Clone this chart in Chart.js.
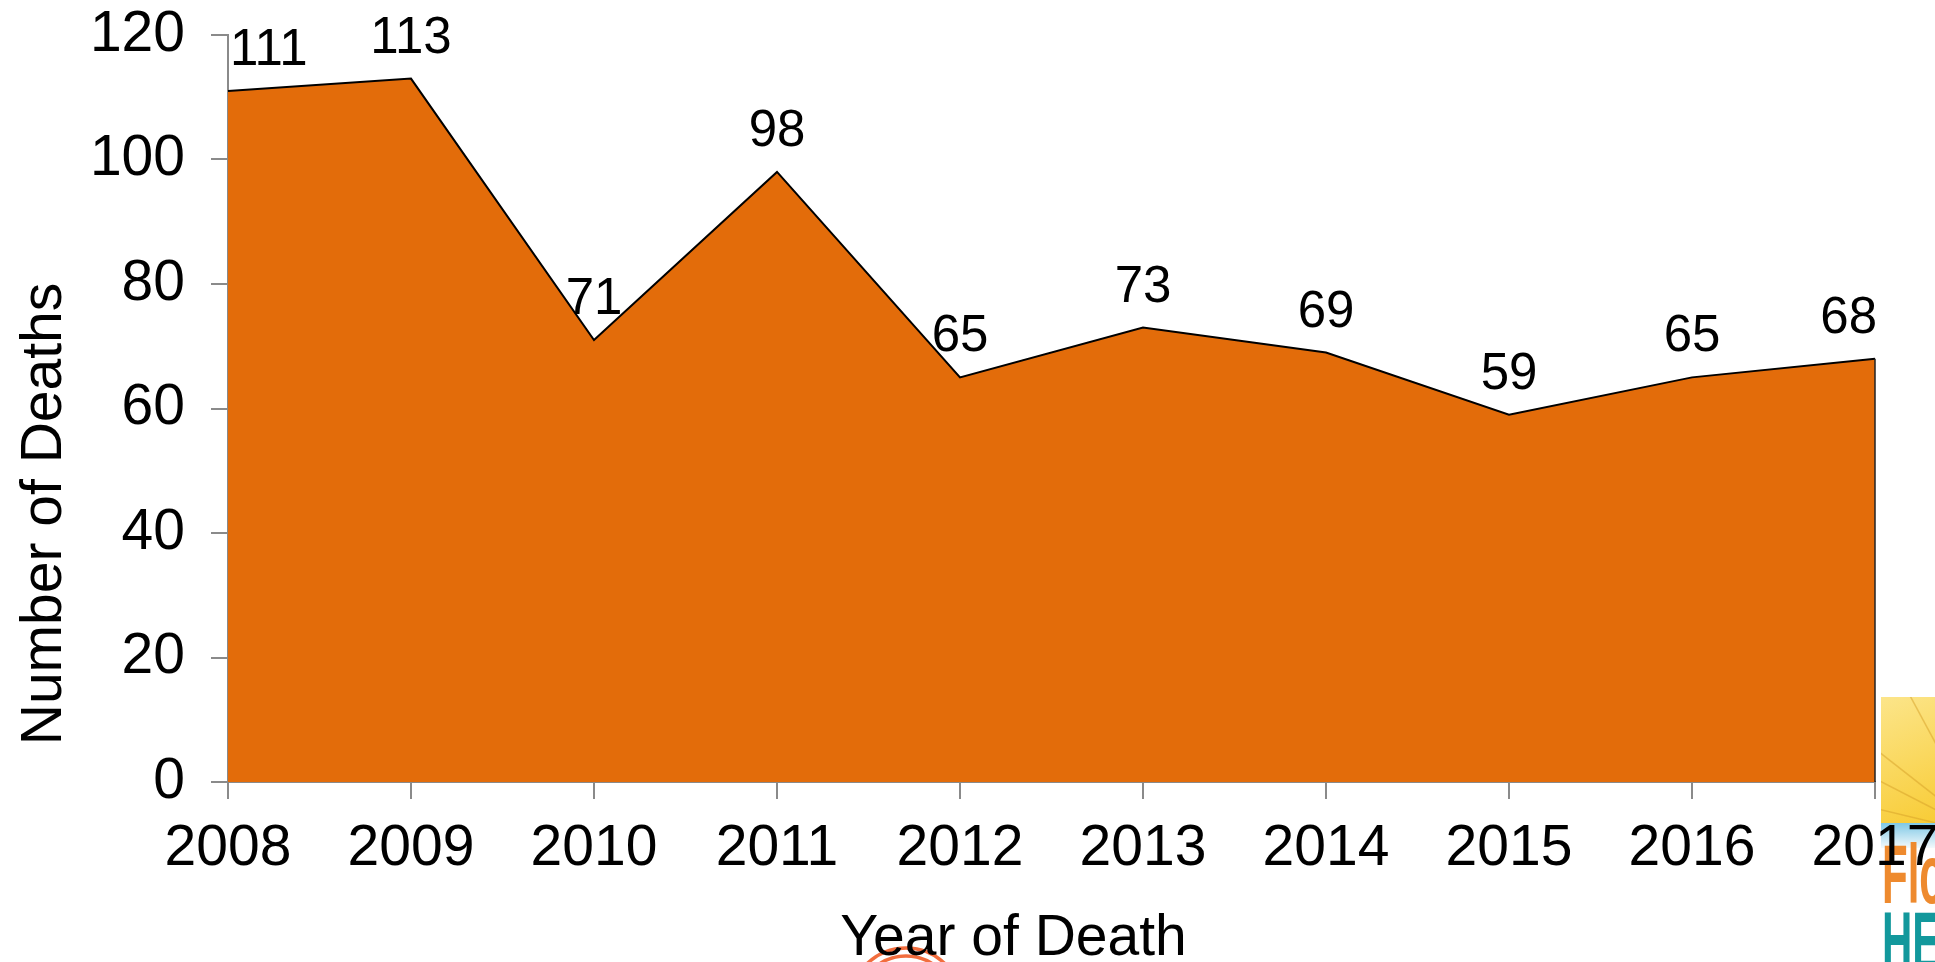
<!DOCTYPE html>
<html>
<head>
<meta charset="utf-8">
<title>Number of Deaths by Year</title>
<script src="https://cdn.jsdelivr.net/npm/chart.js@4.4.1/dist/chart.umd.min.js"></script>
<style>
  html, body { margin: 0; padding: 0; background: #ffffff; overflow: hidden; }
  canvas { display: block; }
</style>
</head>
<body>
<canvas id="chart" width="1935" height="962"></canvas>
<script>
// ---- data ----
const years = ['2008', '2009', '2010', '2011', '2012', '2013', '2014', '2015', '2016', '2017'];
const deaths = [111, 113, 71, 98, 65, 73, 69, 59, 65, 68];
const yRange = [0, 120];
const yStep = 20;
const xTitle = 'Year of Death';
const yTitle = 'Number of Deaths';

// ---- styling ----
const FONT = "'Liberation Sans', Arial, Helvetica, sans-serif";
const AREA_COLOR = '#E36C0A';
const AXIS_COLOR = '#8A8A8A';

// value labels above each point, kept inside the plot horizontally
const valueLabels = {
  id: 'valueLabels',
  afterDatasetsDraw(chart) {
    const { ctx, chartArea } = chart;
    const meta = chart.getDatasetMeta(0);
    const yScale = chart.scales.y;
    ctx.save();
    // dark outline on the closing right edge of the area
    const last = meta.data[meta.data.length - 1];
    ctx.strokeStyle = '#222';
    ctx.lineWidth = 1.5;
    ctx.beginPath();
    ctx.moveTo(last.x, last.y);
    ctx.lineTo(last.x, yScale.getPixelForValue(0));
    ctx.stroke();

    ctx.font = `51px ${FONT}`;
    ctx.fillStyle = '#000';
    ctx.textAlign = 'center';
    ctx.textBaseline = 'middle';
    meta.data.forEach((pt, i) => {
      const txt = String(deaths[i]);
      const w = ctx.measureText(txt).width;
      let x = pt.x;
      x = Math.max(x, chartArea.left + w / 2 + 2);
      x = Math.min(x, chartArea.right - w / 2 + 2);
      ctx.fillText(txt, x, pt.y - 40);
    });
    ctx.restore();
  }
};

// axis titles and the page decorations around the chart
const decorations = {
  id: 'decorations',
  beforeDraw(chart) {
    const { ctx } = chart;
    ctx.save();
    ctx.fillStyle = '#ffffff';
    ctx.fillRect(0, 0, chart.width, chart.height);

    // corner logo
    const lx = 1881, ly = 697, lw = chart.width - 1881;
    ctx.beginPath();
    ctx.rect(lx, ly, lw, chart.height - ly);
    ctx.clip();
    const sun = ctx.createLinearGradient(lx, ly, lx + lw, ly + 126);
    sun.addColorStop(0, '#FCE58A');
    sun.addColorStop(1, '#F8CC36');
    ctx.fillStyle = sun;
    ctx.fillRect(lx, ly, lw, 126);
    ctx.strokeStyle = 'rgba(214,160,40,0.5)';
    ctx.lineWidth = 1.5;
    [[1800, 690], [1800, 740], [1800, 790], [1880, 640], [1930, 640]].forEach(([ex, ey]) => {
      ctx.beginPath();
      ctx.moveTo(1985, 835);
      ctx.lineTo(ex, ey);
      ctx.stroke();
    });
    const sky = ctx.createLinearGradient(0, 823, 0, 848);
    sky.addColorStop(0, '#7EC8E6');
    sky.addColorStop(1, '#F4FAFC');
    ctx.fillStyle = sky;
    ctx.fillRect(lx, 823, lw, 25);
    ctx.fillStyle = '#ffffff';
    ctx.fillRect(lx, 848, lw, chart.height - 848);
    ctx.save();
    ctx.translate(lx + 1, 0);
    ctx.scale(0.5, 1);
    ctx.font = `bold 84px ${FONT}`;
    ctx.textAlign = 'left';
    ctx.textBaseline = 'alphabetic';
    ctx.fillStyle = '#EE8A2E';
    ctx.fillText('Florida', 0, 903);
    ctx.fillStyle = '#12989C';
    ctx.fillText('HEALTH', 0, 970);
    ctx.restore();
    ctx.restore();

    // ring emblem at the bottom edge
    ctx.save();
    ctx.strokeStyle = '#F26D3D';
    ctx.lineWidth = 3.5;
    [56, 48].forEach(r => {
      ctx.beginPath();
      ctx.arc(906, 1004, r, 0, Math.PI * 2);
      ctx.stroke();
    });
    ctx.restore();
  },
  afterDraw(chart) {
    const { ctx, chartArea } = chart;
    ctx.save();
    ctx.fillStyle = '#000';
    ctx.font = `57px ${FONT}`;
    ctx.textAlign = 'center';
    ctx.textBaseline = 'alphabetic';
    ctx.fillText(xTitle, (chartArea.left + chartArea.right) / 2 - 38, 955);
    ctx.translate(61, 514);
    ctx.rotate(-Math.PI / 2);
    ctx.fillText(yTitle, 0, 0);
    ctx.restore();
  }
};

const axisCommon = {
  grid: {
    display: true,
    drawOnChartArea: false,
    drawTicks: true,
    tickLength: 17,
    color: AXIS_COLOR,
    lineWidth: 2
  },
  border: { display: true, color: AXIS_COLOR, width: 2 }
};

// fixed axis box sizes; label overflow does not push the plot area in
function fixBox(size, prop) {
  return function (scale) {
    scale[prop] = size;
    scale.paddingTop = 0;
    scale.paddingBottom = 0;
    scale.paddingLeft = 0;
    scale.paddingRight = 0;
  };
}

new Chart(document.getElementById('chart'), {
  type: 'line',
  data: {
    labels: years,
    datasets: [{
      data: deaths,
      fill: 'origin',
      backgroundColor: AREA_COLOR,
      borderColor: '#000000',
      borderWidth: 2,
      pointRadius: 0,
      pointHoverRadius: 0,
      tension: 0,
      clip: false
    }]
  },
  options: {
    responsive: false,
    animation: false,
    devicePixelRatio: 1,
    layout: { padding: { left: 0, right: 60, top: 35, bottom: 0 } },
    plugins: {
      legend: { display: false },
      tooltip: { enabled: false }
    },
    scales: {
      x: {
        ...axisCommon,
        offset: false,
        ticks: {
          color: '#000',
          font: { family: FONT, size: 57 },
          padding: 16,
          maxRotation: 0,
          autoSkip: false
        },
        afterFit: fixBox(180, 'height')
      },
      y: {
        ...axisCommon,
        min: yRange[0],
        max: yRange[1],
        ticks: {
          stepSize: yStep,
          color: '#000',
          font: { family: FONT, size: 57 },
          padding: 26
        },
        afterFit: fixBox(228, 'width')
      }
    }
  },
  plugins: [decorations, valueLabels]
});
</script>
</body>
</html>
